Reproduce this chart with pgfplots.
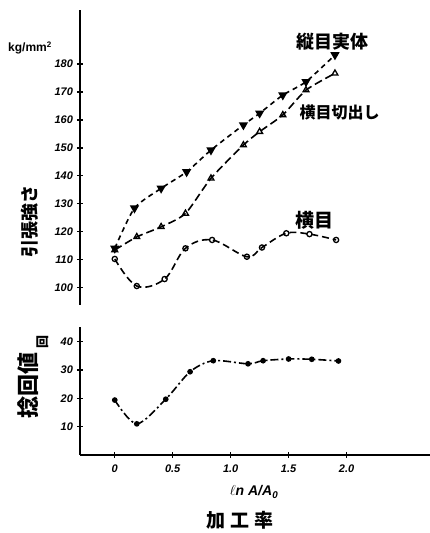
\documentclass[border=0pt]{standalone}
\usepackage{fontspec}
\setmainfont{Liberation Sans}
\newfontfamily\jp{Noto Sans CJK JP}
\usepackage{pgfplots}
\pgfplotsset{compat=1.18}
\begin{document}
\begin{tikzpicture}[x=1pt,y=1pt]
\useasboundingbox (0,0) rectangle (430,533);
\pgfplotsset{every axis/.append style={scale only axis, xmin=-0.30, xmax=2.72,
  line width=1.5pt, tick align=outside, major tick length=6pt,
  tick style={line width=1.3pt, black},
  /pgf/number format/assume math mode=true,
  ticklabel style={font=\bfseries\itshape\fontsize{11}{11}\selectfont}}}
% upper panel
\begin{axis}[at={(80pt,228pt)}, anchor=south west, width=350pt, height=295pt,
  ymin=93.7, ymax=199.4, axis x line=none, axis y line=left,
  y axis line style={-}, every outer y axis line/.append style={-},
  ytick={100,110,...,180}, clip=false]
\addplot[line width=1.6pt, dash pattern=on 5pt off 4pt, smooth, tension=0.4,
  mark=triangle*, mark options={solid, rotate=180, scale=1.9}] coordinates {
 (0,114) (0.17,128.4) (0.40,135.5) (0.62,141.4) (0.83,149.2) (1.11,158.2)
 (1.25,162.4) (1.45,168.9) (1.65,173.7) (1.90,183.3)};
\addplot[line width=1.6pt, dash pattern=on 8pt off 4pt, smooth, tension=0.4,
  mark=triangle, mark options={solid, scale=1.7, line width=1.3pt}] coordinates {
 (0,113.4) (0.19,118.1) (0.40,121.7) (0.61,126.5) (0.83,139.1) (1.11,151.0)
 (1.25,155.8) (1.45,161.8) (1.65,170.7) (1.90,176.7)};
\addplot[line width=1.6pt, dash pattern=on 7pt off 4pt, smooth, tension=0.6,
  mark=o, mark options={solid, scale=1.3, line width=1.3pt}] coordinates {
 (0,110.2) (0.19,100.5) (0.43,103) (0.61,114) (0.84,117) (1.14,111)
 (1.27,114.3) (1.48,119.4) (1.68,119.1) (1.91,117)};
\node[font=\jp\bfseries\fontsize{18}{18}\selectfont] at (axis cs:1.88,187.9) {縦目実体};
\node[font=\jp\bfseries\fontsize{16}{16}\selectfont, anchor=west] at (axis cs:1.56,162.8) {横目切出し};
\node[font=\jp\bfseries\fontsize{19}{19}\selectfont] at (axis cs:1.72,124.1) {横目};
\end{axis}
% lower panel
\begin{axis}[at={(80pt,78pt)}, anchor=south west, width=350pt, height=128pt,
  ymin=0, ymax=45.2, axis lines=left,
  axis line style={-}, every outer x axis line/.append style={-},
  every outer y axis line/.append style={-},
  xtick={0,0.5,1,1.5,2}, xticklabels={0,0.5,1.0,1.5,2.0},
  xticklabel style={yshift=-3pt},
  ytick={10,20,30,40}]
\addplot[line width=1.6pt, dash pattern=on 8pt off 3pt on 2pt off 3pt, smooth, tension=0.5,
  mark=*, mark options={solid, scale=1.0}] coordinates {
 (0,19.4) (0.19,11) (0.44,19.7) (0.65,29.4) (0.85,33.3) (1.15,32.2)
 (1.28,33.3) (1.50,33.9) (1.70,33.8) (1.93,33.2)};
\end{axis}
% labels
\node[font=\bfseries\fontsize{12}{12}\selectfont] at (30,485) {kg/mm\textsuperscript{2}};
\node[font=\jp\bfseries\fontsize{18}{18}\selectfont, rotate=90] at (30,311) {引張強さ};
\node[font=\jp\bfseries\fontsize{22}{22}\selectfont, rotate=90] at (28,147) {捻回値};
\node[font=\jp\bfseries\fontsize{13}{13}\selectfont, rotate=90] at (43,191) {回};
\node[font=\bfseries\itshape\fontsize{14}{14}\selectfont] at (254,41) {$\ell$n A/A\textsubscript{0}};
\node[font=\jp\bfseries\fontsize{19}{19}\selectfont] at (240,13) {加\hspace{5pt}工\hspace{5pt}率};
\end{tikzpicture}
\end{document}
